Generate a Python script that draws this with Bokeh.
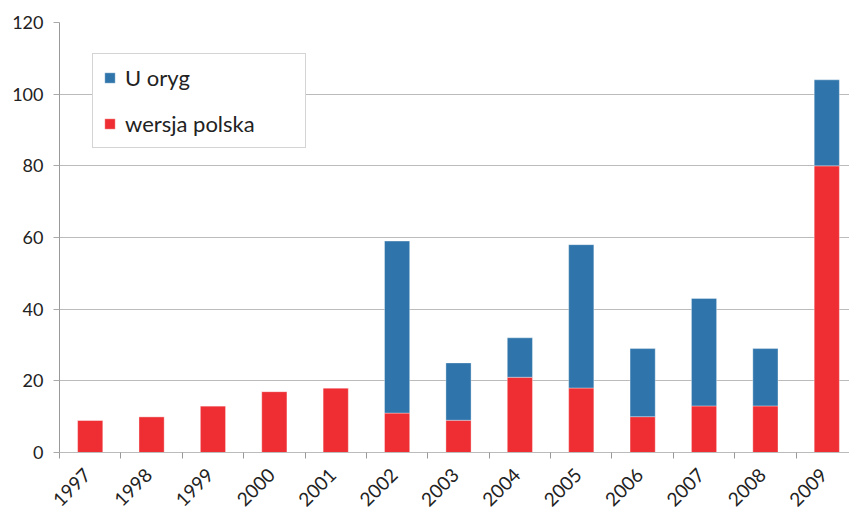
from bokeh.plotting import figure
from bokeh.models import Range1d, FixedTicker, Legend, LegendItem, ColumnDataSource
from bokeh.embed import file_html
from bokeh.resources import INLINE
import math

years = ["1997", "1998", "1999", "2000", "2001", "2002", "2003",
         "2004", "2005", "2006", "2007", "2008", "2009"]
wersja_polska = [9, 10, 13, 17, 18, 11, 9, 21, 18, 10, 13, 13, 80]
u_oryg = [0, 0, 0, 0, 0, 48, 16, 11, 40, 19, 30, 16, 24]
y_ticks = [0, 20, 40, 60, 80, 100, 120]

RED = "#EE2E32"
BLUE = "#2F75AB"
FONT = "Lato"

xpos = [i + 0.5 for i in range(len(years))]
src = ColumnDataSource(dict(x=xpos, pl=wersja_polska, og=u_oryg))

p = figure(width=849, height=515, output_backend="svg", toolbar_location=None,
           x_range=Range1d(0, 12.87), y_range=Range1d(0, 120),
           min_border_left=59, min_border_top=22, min_border_right=0,
           min_border_bottom=62)
p.outline_line_color = None
p.background_fill_color = "white"

rs = p.vbar_stack(["pl", "og"], x="x", width=0.41, source=src,
                  color=[RED, BLUE], line_color="white", line_alpha=0.35,
                  line_width=1)

# axes
label_pos = [x - 0.05 for x in xpos]
p.xaxis.ticker = FixedTicker(ticks=label_pos, minor_ticks=list(range(0, 13)))
p.xaxis.major_label_overrides = {x: y for x, y in zip(label_pos, years)}
p.xaxis.major_label_orientation = math.pi / 4
p.xaxis.major_tick_out = 0
p.xaxis.major_tick_in = 0
p.xaxis.minor_tick_out = 6
p.xaxis.minor_tick_in = 0
p.xaxis.minor_tick_line_color = "#999999"
p.xaxis.axis_line_color = "#BBBBBB"
p.xaxis.major_label_text_font = FONT
p.xaxis.major_label_text_font_size = "19px"
p.xaxis.major_label_text_color = "#222222"
p.xaxis.major_label_standoff = 13

p.yaxis.ticker = FixedTicker(ticks=y_ticks)
p.yaxis.minor_tick_line_color = None
p.yaxis.major_tick_out = 6
p.yaxis.major_tick_in = 0
p.yaxis.major_tick_line_color = "#AAAAAA"
p.yaxis.axis_line_color = "#999999"
p.yaxis.major_label_text_font = FONT
p.yaxis.major_label_text_font_size = "18px"
p.yaxis.major_label_text_color = "#222222"
p.yaxis.major_label_standoff = 10

p.xgrid.grid_line_color = None
p.ygrid.grid_line_color = "#BBBBBB"
p.ygrid.grid_line_width = 1

legend = Legend(items=[LegendItem(label="U oryg", renderers=[rs[1]]),
                       LegendItem(label="wersja polska", renderers=[rs[0]])],
                location=(33, 304), orientation="vertical")
legend.label_text_font = FONT
legend.label_text_font_size = "22px"
legend.label_text_color = "#222222"
legend.glyph_width = 13
legend.glyph_height = 13
legend.label_height = 22
legend.spacing = 19
legend.padding = 10
legend.margin = 0
legend.label_standoff = 9
legend.label_width = 170
legend.border_line_color = "#AAAAAA"
legend.border_line_width = 1
legend.background_fill_color = "white"
legend.background_fill_alpha = 1
p.add_layout(legend, "center")

open("out.html", "w").write(file_html(p, INLINE))
